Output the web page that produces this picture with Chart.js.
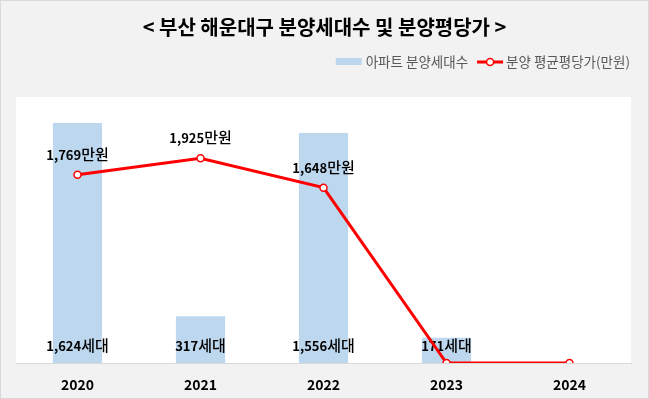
<!DOCTYPE html>
<html><head><meta charset="utf-8">
<script src="https://cdn.jsdelivr.net/npm/chart.js@4"></script>
<style>html,body{margin:0;padding:0;background:#f2f2f2}#wrap{width:649px;height:399px}canvas{display:block}</style>
</head><body><div id="wrap"><canvas id="c" width="649" height="399"></canvas></div>
<script>
const chartTitle = '< 부산 해운대구 분양세대수 및 분양평당가 >';
const years = ['2020', '2021', '2022', '2023', '2024'];
const units = [1624, 317, 1556, 171, 0];
const prices = [1769, 1925, 1648, 0, 0];
const unitsLabel = '아파트 분양세대수';
const priceLabel = '분양 평균평당가(만원)';
const unitsSuffix = '세대';
const priceSuffix = '만원';

const FONT = '"Noto Sans CJK KR", "Noto Sans", sans-serif';
const fmt = v => v.toLocaleString('en-US');

function drawLabel(ctx, num, suffix, cx, baseY) {
  ctx.font = 'bold 13px ' + FONT;
  const wn = ctx.measureText(num).width;
  ctx.font = '500 15px ' + FONT;
  const ws = ctx.measureText(suffix).width;
  let x = cx - (wn + ws) / 2;
  ctx.textAlign = 'left';
  ctx.textBaseline = 'alphabetic';
  ctx.fillStyle = '#000';
  ctx.font = 'bold 13px ' + FONT;
  ctx.fillText(num, x, baseY);
  ctx.font = '500 15px ' + FONT;
  ctx.fillText(suffix, x + wn, baseY);
}

const decor = {
  id: 'decor',
  beforeDraw(chart) {
    const { ctx, chartArea: a, width, height } = chart;
    ctx.save();
    ctx.fillStyle = '#f2f2f2';
    ctx.fillRect(0, 0, width, height);
    ctx.strokeStyle = '#d9d9d9';
    ctx.lineWidth = 1;
    ctx.strokeRect(0.5, 0.5, width - 1, height - 1);
    ctx.fillStyle = '#ffffff';
    ctx.fillRect(a.left, a.top, a.right - a.left, a.bottom - a.top);
    // title
    ctx.fillStyle = '#000';
    ctx.font = 'bold 20px ' + FONT;
    ctx.textAlign = 'center';
    ctx.textBaseline = 'middle';
    ctx.fillText(chartTitle, width / 2, 27);
    // legend
    ctx.font = '13.5px ' + FONT;
    ctx.textAlign = 'left';
    ctx.fillStyle = '#595959';
    const ly = 62;
    let x = 630;
    const w2 = ctx.measureText(priceLabel).width;
    x -= w2;
    ctx.fillText(priceLabel, x, ly);
    x -= 3;
    ctx.strokeStyle = '#ff0000';
    ctx.lineWidth = 3;
    ctx.beginPath(); ctx.moveTo(x - 26, ly); ctx.lineTo(x, ly); ctx.stroke();
    ctx.beginPath(); ctx.arc(x - 13, ly, 3.5, 0, Math.PI * 2);
    ctx.fillStyle = '#fff'; ctx.fill();
    ctx.lineWidth = 1.5; ctx.stroke();
    x -= 26 + 9;
    ctx.fillStyle = '#595959';
    const w1 = ctx.measureText(unitsLabel).width;
    x -= w1;
    ctx.fillText(unitsLabel, x, ly);
    x -= 4;
    ctx.fillStyle = '#bdd7ee';
    ctx.fillRect(x - 26, ly - 4, 26, 7);
    ctx.restore();
  },
  afterDatasetDraw(chart, args) {
    const ctx = chart.ctx;
    const ds = chart.data.datasets[args.index];
    const meta = args.meta;
    ctx.save();
    if (ds.type === 'bar') {
      meta.data.forEach((el, i) => {
        if (!units[i]) return;
        drawLabel(ctx, fmt(units[i]), unitsSuffix, el.x, chart.chartArea.bottom - 12);
      });
    } else {
      meta.data.forEach((el, i) => {
        if (!prices[i]) return;
        drawLabel(ctx, fmt(prices[i]), priceSuffix, el.x, el.y - 15);
      });
    }
    ctx.restore();
  }
};

new Chart(document.getElementById('c'), {
  data: {
    labels: years,
    datasets: [
      {
        type: 'line', label: priceLabel, data: prices, yAxisID: 'y2', order: 0,
        borderColor: '#ff0000', borderWidth: 3, tension: 0,
        pointRadius: 3.5, pointHoverRadius: 3.5,
        pointBackgroundColor: '#ffffff', pointBorderColor: '#ff0000', pointBorderWidth: 1.5
      },
      {
        type: 'bar', label: unitsLabel, data: units, yAxisID: 'y', order: 1,
        backgroundColor: '#bdd7ee', barPercentage: 0.4, categoryPercentage: 1
      }
    ]
  },
  options: {
    responsive: false,
    animation: false,
    devicePixelRatio: 1,
    layout: { padding: { left: 16, right: 18, top: 97, bottom: 0 } },
    plugins: { legend: { display: false }, title: { display: false }, tooltip: { enabled: false } },
    scales: {
      x: {
        grid: { display: false, drawTicks: false },
        border: { display: true, color: '#d9d9d9', width: 1 },
        ticks: { color: '#000', font: { family: FONT, size: 14, weight: 'bold' }, padding: 13, maxRotation: 0 },
        afterFit: s => { s.height = 36; }
      },
      y: { display: false, min: 0, max: 1800 },
      y2: { display: false, min: 0, max: 2500, position: 'right' }
    }
  },
  plugins: [decor]
});
</script>
</body></html>
